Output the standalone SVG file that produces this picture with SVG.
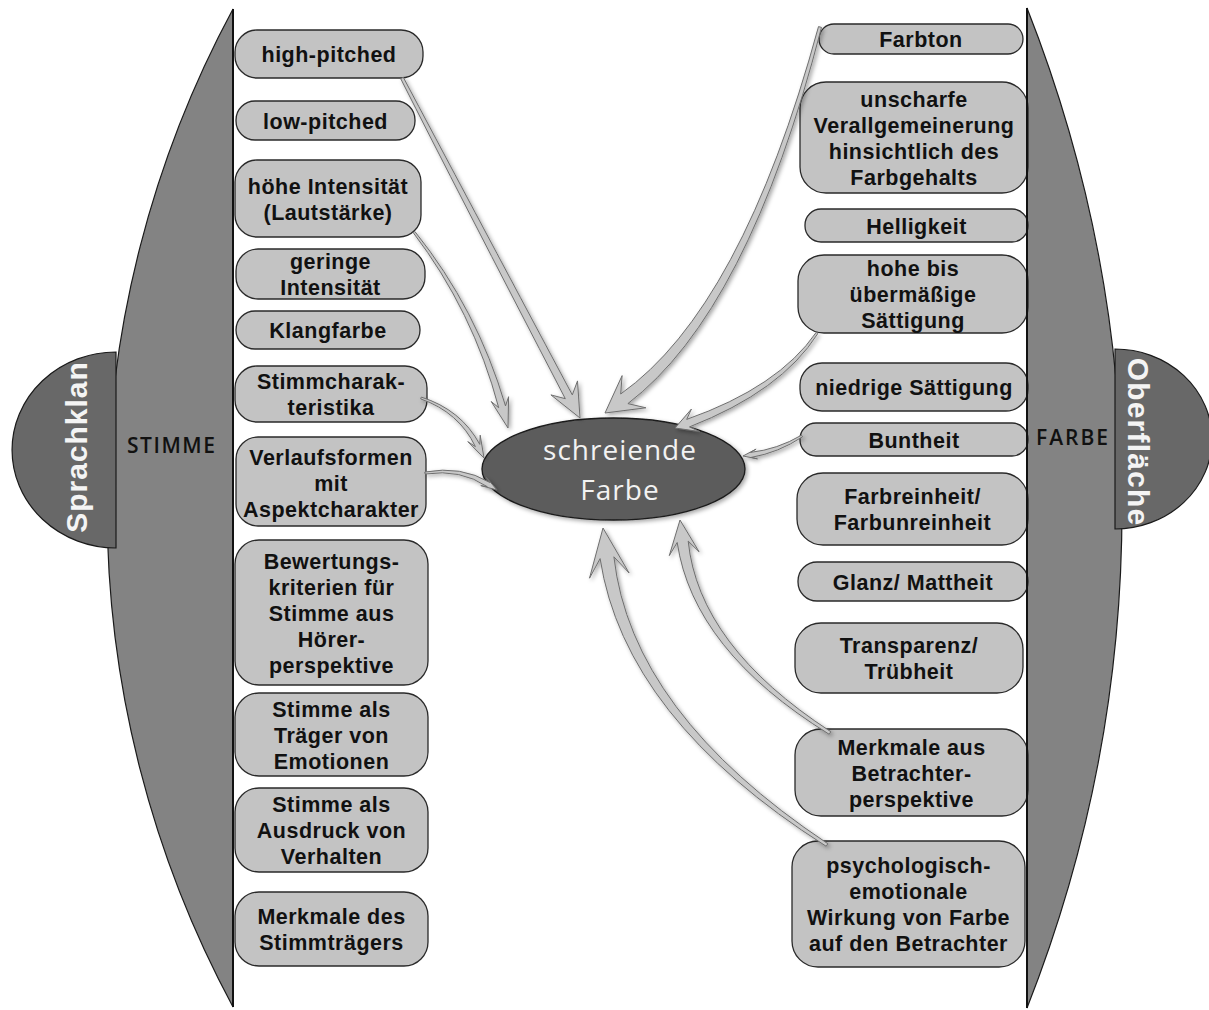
<svg xmlns="http://www.w3.org/2000/svg" width="1209" height="1010" viewBox="0 0 1209 1010">
<defs>
<style>
.node rect{fill:#c3c3c3;stroke:#2a2a2a;stroke-width:1.3}
.node text{font-family:"Liberation Sans",Arial,sans-serif;font-weight:bold;font-size:21.5px;letter-spacing:0.5px;fill:#111;text-anchor:middle}
.arrow{fill:#c8c8c8;stroke:#6e6e6e;stroke-width:1;stroke-linejoin:round;filter:url(#sh)}
.panel{fill:#838383;stroke:#1a1a1a;stroke-width:1.2}
.half{fill:#686868;stroke:#1a1a1a;stroke-width:1.2}
.side{font-family:"Liberation Sans",Arial,sans-serif;font-weight:bold;fill:#f4f4f4;text-anchor:middle}
.cat{font-family:"Open Sans","DejaVu Sans",sans-serif;font-size:21px;font-weight:600;fill:#111;text-anchor:middle}
.center{font-family:"Open Sans","DejaVu Sans",sans-serif;font-size:28px;letter-spacing:1px;fill:#f2f2f2;text-anchor:middle}
</style>
<filter id="sh" x="-30%" y="-30%" width="160%" height="160%">
<feDropShadow dx="2" dy="2" stdDeviation="2" flood-color="#000" flood-opacity="0.35"/>
</filter>
</defs>
<rect width="1209" height="1010" fill="#fff"/>

<g id="panel-stimme">
<path class="panel" d="M233,9 A1052,1052 0 0 0 233,1007 Z"/>
<line x1="233" y1="9" x2="233" y2="1007" stroke="#111" stroke-width="2"/>
<path class="half" d="M116,352 A104,98 0 0 0 116,548 Z"/>
<text class="side" font-size="30" letter-spacing="1" transform="translate(87,447) rotate(-90)">Sprachklan</text>
<text class="cat" x="171" y="453" textLength="88" lengthAdjust="spacing">STIMME</text>
</g>

<g id="panel-farbe">
<path class="panel" d="M1027,8 A1363,1363 0 0 1 1027,1008 Z"/>
<path class="half" d="M1115,349 A97,90 0 0 1 1115,529 Z"/>
<text class="side" font-size="30" letter-spacing="1.2" transform="translate(1128,442) rotate(90)">Oberfläche</text>
<text class="cat" x="1072" y="445" textLength="72" lengthAdjust="spacing">FARBE</text>
</g>

<g id="n-high-pitched" class="node"><rect x="235" y="30" width="188" height="48" rx="22"/><text x="329" y="62">high-pitched</text></g>
<g id="n-low-pitched" class="node"><rect x="236" y="101" width="179" height="39" rx="19"/><text x="325.5" y="128.5">low-pitched</text></g>
<g id="n-hoehe-intensitaet" class="node"><rect x="235" y="160" width="186" height="77" rx="22"/><text x="328" y="193.5">höhe Intensität</text><text x="328" y="219.5">(Lautstärke)</text></g>
<g id="n-geringe-intensitaet" class="node"><rect x="236" y="249" width="189" height="50" rx="22"/><text x="330.5" y="269">geringe</text><text x="330.5" y="295">Intensität</text></g>
<g id="n-klangfarbe" class="node"><rect x="236" y="311" width="184" height="38" rx="19"/><text x="328" y="338">Klangfarbe</text></g>
<g id="n-stimmcharakteristika" class="node"><rect x="235" y="366" width="192" height="56" rx="22"/><text x="331" y="389">Stimmcharak-</text><text x="331" y="415">teristika</text></g>
<g id="n-verlaufsformen" class="node"><rect x="236" y="437" width="190" height="89" rx="22"/><text x="331" y="465">Verlaufsformen</text><text x="331" y="491">mit</text><text x="331" y="517">Aspektcharakter</text></g>
<g id="n-bewertungskriterien" class="node"><rect x="235" y="540" width="193" height="145" rx="24"/><text x="331.5" y="568.5">Bewertungs-</text><text x="331.5" y="594.5">kriterien für</text><text x="331.5" y="620.5">Stimme aus</text><text x="331.5" y="646.5">Hörer-</text><text x="331.5" y="672.5">perspektive</text></g>
<g id="n-traeger-emotionen" class="node"><rect x="235" y="693" width="193" height="83" rx="24"/><text x="331.5" y="716.5">Stimme als</text><text x="331.5" y="742.5">Träger von</text><text x="331.5" y="768.5">Emotionen</text></g>
<g id="n-ausdruck-verhalten" class="node"><rect x="235" y="788" width="193" height="84" rx="24"/><text x="331.5" y="812">Stimme als</text><text x="331.5" y="838">Ausdruck von</text><text x="331.5" y="864">Verhalten</text></g>
<g id="n-merkmale-stimmtraeger" class="node"><rect x="235" y="892" width="193" height="74" rx="24"/><text x="331.5" y="924">Merkmale des</text><text x="331.5" y="950">Stimmträgers</text></g>

<g id="n-farbton" class="node"><rect x="819" y="24" width="204" height="30" rx="15"/><text x="921" y="47">Farbton</text></g>
<g id="n-unscharfe" class="node"><rect x="800" y="82" width="228" height="111" rx="26"/><text x="914" y="106.5">unscharfe</text><text x="914" y="132.5">Verallgemeinerung</text><text x="914" y="158.5">hinsichtlich des</text><text x="914" y="184.5">Farbgehalts</text></g>
<g id="n-helligkeit" class="node"><rect x="805" y="209" width="223" height="33" rx="16"/><text x="916.5" y="233.5">Helligkeit</text></g>
<g id="n-hohe-saettigung" class="node"><rect x="798" y="255" width="230" height="78" rx="26"/><text x="913" y="276">hohe bis</text><text x="913" y="302">übermäßige</text><text x="913" y="328">Sättigung</text></g>
<g id="n-niedrige-saettigung" class="node"><rect x="800" y="363" width="228" height="48" rx="22"/><text x="914" y="395">niedrige Sättigung</text></g>
<g id="n-buntheit" class="node"><rect x="800" y="423" width="228" height="33" rx="16"/><text x="914" y="447.5">Buntheit</text></g>
<g id="n-farbreinheit" class="node"><rect x="797" y="473" width="231" height="72" rx="26"/><text x="912.5" y="504">Farbreinheit/</text><text x="912.5" y="530">Farbunreinheit</text></g>
<g id="n-glanz" class="node"><rect x="798" y="562" width="230" height="39" rx="19"/><text x="913" y="589.5">Glanz/ Mattheit</text></g>
<g id="n-transparenz" class="node"><rect x="795" y="623" width="228" height="70" rx="26"/><text x="909" y="653">Transparenz/</text><text x="909" y="679">Trübheit</text></g>
<g id="n-betrachterperspektive" class="node"><rect x="795" y="729" width="233" height="87" rx="26"/><text x="911.5" y="754.5">Merkmale aus</text><text x="911.5" y="780.5">Betrachter-</text><text x="911.5" y="806.5">perspektive</text></g>
<g id="n-psychologisch" class="node"><rect x="792" y="841" width="233" height="126" rx="26"/><text x="908.5" y="873">psychologisch-</text><text x="908.5" y="899">emotionale</text><text x="908.5" y="925">Wirkung von Farbe</text><text x="908.5" y="951">auf den Betrachter</text></g>

<line x1="1027" y1="8" x2="1027" y2="1008" stroke="#111" stroke-width="2"/>

<g id="n-schreiende-farbe">
<ellipse cx="613.5" cy="469" rx="131.5" ry="51" fill="#5c5c5c" stroke="#1a1a1a" stroke-width="1.3" filter="url(#sh)"/>
<text class="center" x="620" y="460">schreiende</text>
<text class="center" x="620" y="500">Farbe</text>
</g>

<g id="connectors">
<path class="arrow" d="M400.7,78.7 Q457.6,191.3 565.3,398.7 L550.9,394.9 L580,418 L577.5,380.9 L572.3,394.9 Q462.4,188.7 403.3,77.3 Z"/>
<path class="arrow" d="M413.2,232.6 Q473,311 498.7,407.7 L491.2,401.5 L508,428 L508.6,396.7 L505.5,405.9 Q477,309 414.8,231.4 Z"/>
<path class="arrow" d="M420.7,398.9 Q458.9,412.3 475.4,446.6 L467.8,441.6 L484,458 L480.2,435.2 L479.8,444.4 Q461.1,409.7 421.3,397.1 Z"/>
<path class="arrow" d="M425.2,474 Q460.7,468.7 487.3,486.7 L480.8,485.6 L497,490 L486.2,477.2 L489.9,482.5 Q461.3,465.3 424.8,472 Z"/>
<path class="arrow" d="M818.5,26.6 Q741.7,308.3 620.7,394 L622.1,375.6 L605,413 L645.9,407.8 L627.9,403.6 Q748.3,311.7 821.5,27.4 Z"/>
<path class="arrow" d="M816.2,332.4 Q778.6,387 686.7,419.4 L691.4,409.1 L675,428 L699.8,431.6 L689.5,426.9 Q781.4,391 817.8,333.6 Z"/>
<path class="arrow" d="M801.5,435.2 Q777.4,449.4 750.5,452.4 L756.1,449.1 L743,456 L757.5,458.9 L751.3,457.4 Q778.6,452.6 802.5,436.8 Z"/>
<path class="arrow" d="M830.8,731.7 Q698.8,645.9 688.2,541.1 L699.1,551.8 L680,520 L669.3,555.6 L677.2,542.5 Q693.2,650.1 829.2,734.3 Z"/>
<path class="arrow" d="M827.8,843.7 Q631.4,713 613.9,556.8 L629.1,573 L603,528 L589.5,578.2 L600.1,558.6 Q624.6,718.2 826.2,846.3 Z"/>
</g>
</svg>
